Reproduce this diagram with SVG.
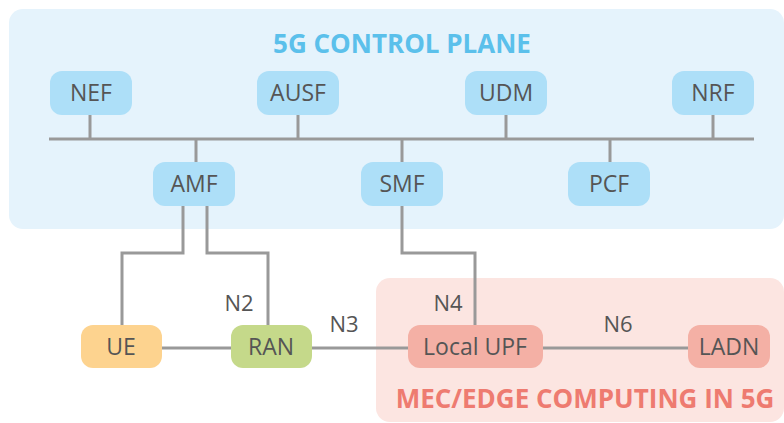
<svg xmlns="http://www.w3.org/2000/svg" width="784" height="423" viewBox="0 0 784 423">
<style>
.bg{fill:#fff}
.cp{fill:#e5f3fc}
.mec{fill:#fce5e1}
.nb{fill:#addff8}
.np{fill:#f4b0a5}
.nt{font-family:"Open Sans","Liberation Sans",sans-serif;font-size:23px;fill:#555;text-anchor:middle}
.lbl{font-family:"Open Sans","Liberation Sans",sans-serif;font-size:22px;fill:#555;text-anchor:middle}
.ttl{font-family:"Open Sans","Liberation Sans",sans-serif;font-weight:bold;font-size:26px;text-anchor:middle}
.ln{fill:none;stroke:#999;stroke-width:3}
</style>
<rect class="bg" width="784" height="423"/>
<rect class="cp" x="9" y="9" width="775" height="220" rx="14"/>
<rect class="mec" x="376" y="278" width="408" height="144" rx="14"/>
<text class="ttl" x="402" y="53" fill="#5bc0eb">5G CONTROL PLANE</text>
<text class="ttl" x="585" y="408" fill="#ee7b70">MEC/EDGE COMPUTING IN 5G</text>
<g id="connectors">
<path class="ln" d="M49 139H754"/>
<path class="ln" d="M90 115V139M298 115V139M506 115V139M713 115V139"/>
<path class="ln" d="M196 139V162M402 139V162M610 139V162"/>
<path class="ln" d="M183 206V253H122V325"/>
<path class="ln" d="M207 206V253H268V325"/>
<path class="ln" d="M402 206V253H475V325"/>
<path class="ln" d="M162 348H231M312 348H408M543 348H688"/>
<text class="lbl" x="239" y="311">N2</text>
<text class="lbl" x="344" y="332">N3</text>
<text class="lbl" x="448" y="311">N4</text>
<text class="lbl" x="618" y="332">N6</text>
</g>
<g id="NEF"><rect class="nb" x="50" y="71" width="82" height="44" rx="12"/><text class="nt" x="91" y="101">NEF</text></g>
<g id="AUSF"><rect class="nb" x="257" y="71" width="82" height="44" rx="12"/><text class="nt" x="298" y="101">AUSF</text></g>
<g id="UDM"><rect class="nb" x="465" y="71" width="82" height="44" rx="12"/><text class="nt" x="506" y="101">UDM</text></g>
<g id="NRF"><rect class="nb" x="672" y="71" width="82" height="44" rx="12"/><text class="nt" x="713" y="101">NRF</text></g>
<g id="AMF"><rect class="nb" x="153" y="162" width="82" height="44" rx="12"/><text class="nt" x="194" y="192">AMF</text></g>
<g id="SMF"><rect class="nb" x="361" y="162" width="82" height="44" rx="12"/><text class="nt" x="402" y="192">SMF</text></g>
<g id="PCF"><rect class="nb" x="568" y="162" width="82" height="44" rx="12"/><text class="nt" x="609" y="192">PCF</text></g>
<g id="UE"><rect x="81" y="325" width="81" height="43" rx="12" fill="#fdd38f"/><text class="nt" x="121" y="355">UE</text></g>
<g id="RAN"><rect x="231" y="325" width="81" height="43" rx="12" fill="#c5d98a"/><text class="nt" x="271" y="355">RAN</text></g>
<g id="LocalUPF"><rect class="np" x="408" y="325" width="135" height="43" rx="12"/><text class="nt" x="475" y="355">Local UPF</text></g>
<g id="LADN"><rect class="np" x="688" y="325" width="82" height="43" rx="12"/><text class="nt" x="729" y="355">LADN</text></g>
</svg>
